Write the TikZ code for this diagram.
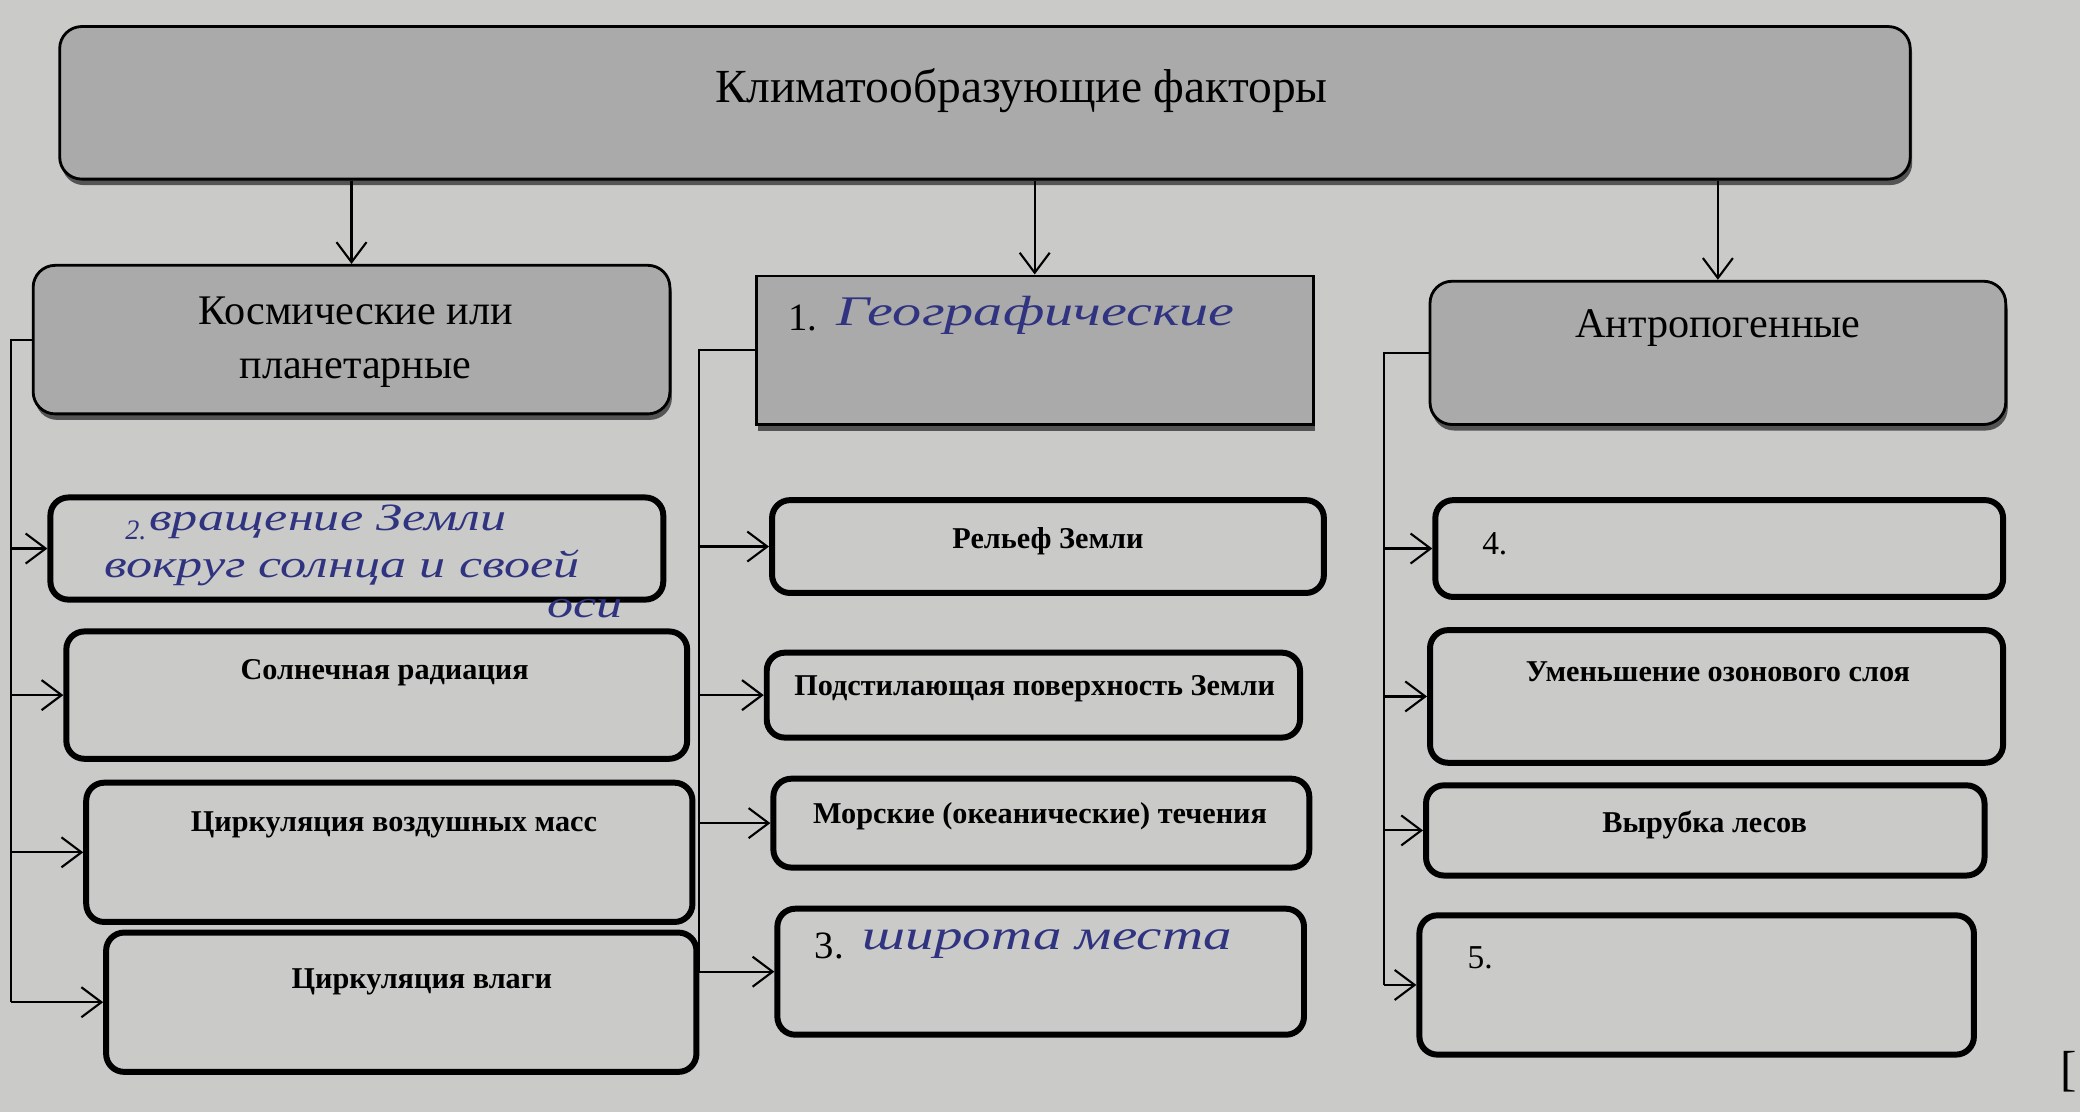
\documentclass[tikz,border=0pt]{standalone}
\usepackage{fontspec}
\setmainfont{Liberation Serif}
\usetikzlibrary{arrows.meta,fit,shadows}
\definecolor{paper}{RGB}{202,202,200}
\definecolor{boxgray}{RGB}{170,170,170}
\definecolor{ink}{RGB}{48,52,128}
\begin{document}
\begin{tikzpicture}[x=0.013265cm, y=-0.013265cm,
  lvl/.style={draw=black, line width=0.8pt, fill=boxgray, rounded corners=0.22cm, inner sep=0pt,
    drop shadow={shadow xshift=0.02cm, shadow yshift=-0.06cm, fill=black!75, opacity=0.85}},
  geobox/.style={draw=black, line width=0.8pt, fill=boxgray, inner sep=0pt,
    drop shadow={shadow xshift=0.02cm, shadow yshift=-0.06cm, fill=black!75, opacity=0.85}},
  sbox/.style={draw=black, line width=1.7pt, fill=paper, rounded corners=0.18cm, inner sep=0pt},
  conn/.style={line width=0.6pt},
  arr/.style={line width=0.6pt, -{Straight Barb[length=0.2cm,width=0.3cm,line width=0.6pt]}},
  ttl/.style={font=\fontsize{13.5}{16}\selectfont},
  ltxt/.style={font=\fontsize{12}{15.5}\selectfont, align=center},
  stxt/.style={font=\bfseries\fontsize{8.6}{10.5}\selectfont},
  num/.style={font=\fontsize{9.5}{11}\selectfont, anchor=west},
  hand/.style={text=ink, font=\itshape\fontsize{11}{13}\selectfont, anchor=west, inner sep=0pt}]

\fill[paper] (0,0) rectangle (1568,838.3);
\useasboundingbox (0,0) rectangle (1568,838.3);

% top box
\node[lvl, fit={(45,20) (1440,135)}] (top) {};
\node[ttl] (topt) at (770,68) {Климатообразующие факторы};

% level 2
\node[lvl, fit={(25,200) (505,312)}] (kos) {};
\node[ltxt] (kost) at (268,258) {Космические или\\планетарные};
\node[geobox, fit={(570,208) (990,320)}] (geo) {};
\node[num, font=\fontsize{11}{13}\selectfont] (geot1) at (585,240) {1.};
\node[hand, font=\itshape\fontsize{12}{14}\selectfont] (geot2) at (630,238) {\scalebox{1.38}[1]{Географические}};
\node[lvl, fit={(1078,212) (1512,320)}] (ant) {};
\node[ltxt] (antt) at (1295,247) {Антропогенные};

% arrows from top
\draw[arr] (top.south -| kos.north) -- (kos.north);
\draw[arr] (top.south -| geo.north) -- (geo.north);
\draw[arr] (top.south -| ant.north) -- (ant.north);

% left column
\node[sbox, fit={(38,375) (500,452)}] (L1) {};
\node[hand, font=\itshape\fontsize{8}{9}\selectfont] (L1n) at (94,400) {2.};
\node[hand] (L1a) at (112,393) {\scalebox{1.35}[1]{вращение Земли}};
\node[hand] (L1b) at (78,428) {\scalebox{1.35}[1]{вокруг солнца и своей}};
\node[hand] (L1c) at (412,459) {\scalebox{1.35}[1]{оси}};
\node[sbox, fit={(50,476) (518,572)}] (L2) {};
\node[stxt] (L2t) at (290,507) {Солнечная радиация};
\node[sbox, fit={(65,590) (522,695)}] (L3) {};
\node[stxt] (L3t) at (297,622) {Циркуляция воздушных масс};
\node[sbox, fit={(80,703) (525,808)}] (L4) {};
\node[stxt] (L4t) at (318,740) {Циркуляция влаги};

\coordinate (lb) at (8,0);
\draw[conn] (kos.west) -- (kos.west -| lb) -- (lb |- L4.west);
\draw[arr] (lb |- L1.west) -- (L1.west);
\draw[arr] (lb |- L2.west) -- (L2.west);
\draw[arr] (lb |- L3.west) -- (L3.west);
\draw[arr] (lb |- L4.west) -- (L4.west);

% middle column
\node[sbox, fit={(582,377) (998,447)}] (M1) {};
\node[stxt] (M1t) at (790,408) {Рельеф Земли};
\node[sbox, fit={(578,492) (980,556)}] (M2) {};
\node[stxt] (M2t) at (780,519) {Подстилающая поверхность Земли};
\node[sbox, fit={(583,587) (987,654)}] (M3) {};
\node[stxt] (M3t) at (784,615) {Морские (океанические) течения};
\node[sbox, fit={(586,685) (983,780)}] (M4) {};
\node[num, font=\fontsize{11}{13}\selectfont] (M4n) at (605,713) {3.};
\node[hand, font=\itshape\fontsize{12}{14}\selectfont] (M4t) at (650,712) {\scalebox{1.35}[1]{широта места}};

\coordinate (mb) at (527,0);
\draw[conn] (geo.west) -- (geo.west -| mb) -- (mb |- M4.west);
\draw[arr] (mb |- M1.west) -- (M1.west);
\draw[arr] (mb |- M2.west) -- (M2.west);
\draw[arr] (mb |- M3.west) -- (M3.west);
\draw[arr] (mb |- M4.west) -- (M4.west);

% right column
\node[sbox, fit={(1082,377) (1510,450)}] (R1) {};
\node[num] (R1t) at (1108,410) {4.};
\node[sbox, fit={(1078,475) (1510,575)}] (R2) {};
\node[stxt] (R2t) at (1295,506) {Уменьшение озонового слоя};
\node[sbox, fit={(1075,592) (1496,660)}] (R3) {};
\node[stxt] (R3t) at (1285,622) {Вырубка лесов};
\node[sbox, fit={(1070,690) (1488,795)}] (R4) {};
\node[num] (R4t) at (1097,722) {5.};

\coordinate (rb) at (1043,0);
\draw[conn] (ant.west) -- (ant.west -| rb) -- (rb |- R4.west);
\draw[arr] (rb |- R1.west) -- (R1.west);
\draw[arr] (rb |- R2.west) -- (R2.west);
\draw[arr] (rb |- R3.west) -- (R3.west);
\draw[arr] (rb |- R4.west) -- (R4.west);

\node[font=\fontsize{14}{16}\selectfont, anchor=west, inner sep=0pt] (br) at (1553,808) {[};
\end{tikzpicture}
\end{document}
